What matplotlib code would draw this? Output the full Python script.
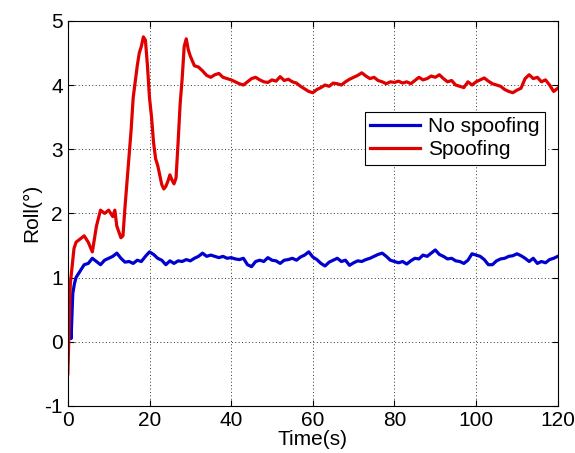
import numpy as np
import matplotlib
matplotlib.use('Agg')
import matplotlib.pyplot as plt

plt.rcParams['font.family'] = ['Liberation Sans', 'DejaVu Sans']
plt.rcParams['axes.unicode_minus'] = False

# no spoofing (blue)
t_ns = [0, 0.4, 0.8, 1.2, 1.6, 2, 3, 4, 5, 6, 7, 8, 9, 10, 11, 12, 13, 14, 15, 16, 17, 18, 19, 20,
        21, 22, 23, 24, 25, 26, 27, 28, 29, 30, 31, 32, 33, 34, 35, 36, 37, 38, 39, 40,
        41, 42, 43, 44, 45, 46, 47, 48, 49, 50, 51, 52, 53, 54, 55, 56, 57, 58, 59, 60,
        61, 62, 63, 64, 65, 66, 67, 68, 69, 70, 71, 72, 73, 74, 75, 76, 77, 78, 79, 80,
        81, 82, 83, 84, 85, 86, 87, 88, 89, 90, 91, 92, 93, 94, 95, 96, 97, 98, 99, 100,
        101, 102, 103, 104, 105, 106, 107, 108, 109, 110, 111, 112, 113, 114, 115, 116, 117, 118, 119, 120]
roll_ns = [0.55, 0.3, 0.05, 0.75, 0.9, 1.0, 1.1, 1.2, 1.22, 1.3, 1.25, 1.2, 1.27, 1.3, 1.33, 1.38, 1.3, 1.24, 1.25, 1.22, 1.27, 1.25, 1.33, 1.4,
           1.36, 1.3, 1.27, 1.2, 1.26, 1.22, 1.26, 1.25, 1.28, 1.26, 1.3, 1.33, 1.38, 1.33, 1.35, 1.33, 1.31, 1.33, 1.3, 1.31,
           1.29, 1.28, 1.3, 1.2, 1.17, 1.25, 1.27, 1.25, 1.31, 1.27, 1.26, 1.22, 1.27, 1.28, 1.3, 1.27, 1.32, 1.35, 1.4, 1.32,
           1.28, 1.22, 1.18, 1.24, 1.27, 1.3, 1.25, 1.27, 1.19, 1.23, 1.26, 1.25, 1.28, 1.3, 1.33, 1.36, 1.38, 1.33, 1.27, 1.25,
           1.23, 1.25, 1.21, 1.26, 1.3, 1.29, 1.35, 1.33, 1.38, 1.43, 1.36, 1.33, 1.29, 1.3, 1.26, 1.25, 1.22, 1.27, 1.37, 1.35,
           1.33, 1.28, 1.2, 1.2, 1.26, 1.29, 1.3, 1.33, 1.34, 1.37, 1.34, 1.3, 1.25, 1.3, 1.22, 1.25, 1.23, 1.28, 1.3, 1.33]

# spoofing (red)
t_sp = [0, 0.3, 0.6, 1, 1.5, 2, 3, 4, 5, 6, 6.5, 7, 8, 9, 10, 11, 11.5, 12, 13, 13.5, 14, 14.5, 15, 15.5,
        16, 16.5, 17, 17.5, 18, 18.5, 19, 19.5, 20, 20.5, 21, 21.5, 22, 22.5, 23, 23.5, 24, 24.5, 25, 25.5,
        26, 26.5, 27, 27.5, 28, 28.5, 29, 29.5, 30, 31, 32, 33, 34, 35, 36, 37, 38, 39, 40,
        41, 42, 43, 44, 45, 46, 47, 48, 49, 50, 51, 52, 53, 54, 55, 56, 57, 58, 59, 60,
        61, 62, 63, 64, 65, 66, 67, 68, 69, 70, 71, 72, 73, 74, 75, 76, 77, 78, 79, 80,
        81, 82, 83, 84, 85, 86, 87, 88, 89, 90, 91, 92, 93, 94, 95, 96, 97, 98, 99, 100,
        101, 102, 103, 104, 105, 106, 107, 108, 109, 110, 111, 112, 113, 114, 115, 116, 117, 118, 119, 120]
roll_sp = [-0.5, 0.2, 0.9, 1.15, 1.45, 1.55, 1.6, 1.65, 1.55, 1.4, 1.6, 1.8, 2.05, 2.0, 2.05, 1.95, 2.05, 1.8, 1.62, 1.65, 2.1, 2.5, 2.9, 3.3,
           3.8, 4.05, 4.3, 4.5, 4.6, 4.75, 4.7, 4.3, 3.8, 3.5, 3.1, 2.85, 2.75, 2.6, 2.45, 2.38, 2.42, 2.5, 2.6, 2.52,
           2.46, 2.55, 3.1, 3.7, 4.1, 4.6, 4.72, 4.55, 4.45, 4.3, 4.28, 4.22, 4.15, 4.12, 4.16, 4.18, 4.12, 4.1, 4.08,
           4.05, 4.02, 4.0, 4.05, 4.1, 4.12, 4.08, 4.05, 4.04, 4.08, 4.06, 4.13, 4.07, 4.09, 4.05, 4.03, 3.98, 3.94, 3.9, 3.88,
           3.93, 3.96, 4.0, 3.98, 4.03, 4.02, 4.0, 4.05, 4.09, 4.12, 4.15, 4.19, 4.14, 4.1, 4.12, 4.07, 4.05, 4.02, 4.05, 4.04,
           4.06, 4.03, 4.05, 4.02, 4.07, 4.12, 4.08, 4.1, 4.14, 4.12, 4.16, 4.1, 4.05, 4.07, 4.0, 3.98, 3.96, 4.05, 4.0, 4.05,
           4.08, 4.11, 4.06, 4.02, 4.0, 3.98, 3.93, 3.9, 3.88, 3.92, 3.95, 4.1, 4.16, 4.1, 4.12, 4.05, 4.08, 4.0, 3.9, 3.95]

fig = plt.figure(figsize=(5.75, 4.53), dpi=100)
ax = fig.add_axes([0.118, 0.104, 0.852, 0.850])
ax.plot(t_ns, roll_ns, color='#0000d0', lw=2.3, label='No spoofing')
ax.plot(t_sp, roll_sp, color='#e00000', lw=2.3, label='Spoofing')

ax.set_xlim(0, 120)
ax.set_ylim(-1, 5)
ax.set_xticks(np.arange(0, 121, 20))
ax.set_yticks(np.arange(-1, 6, 1))
ax.grid(True, linestyle=(0, (1, 2.5)), color='#333333', lw=0.7)
ax.tick_params(direction='in', labelsize=15, length=4, top=True, right=True)
ax.set_xlabel('Time(s)', fontsize=15, labelpad=0)
ax.set_ylabel('Roll(°)', fontsize=15, labelpad=2)

leg = ax.legend(loc='upper right', bbox_to_anchor=(0.995, 0.79), fontsize=15,
                fancybox=False, framealpha=1, edgecolor='black',
                handlelength=2.4, borderpad=0.25, labelspacing=0.2, handletextpad=0.4)
leg.get_frame().set_linewidth(0.8)

plt.savefig('out.png', dpi=100)
